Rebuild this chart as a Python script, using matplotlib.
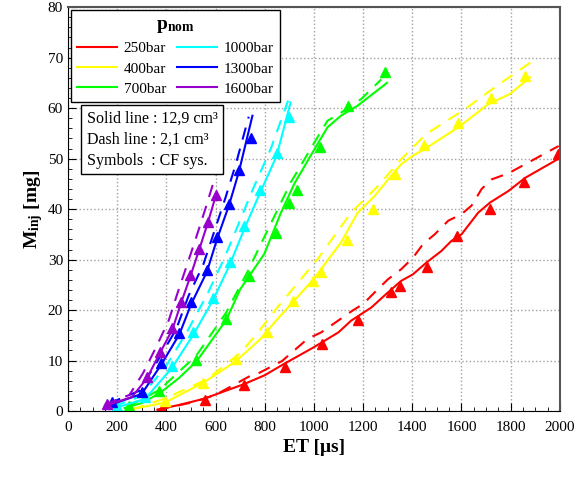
import numpy as np
import matplotlib
matplotlib.use('Agg')
import matplotlib.pyplot as plt
from matplotlib.lines import Line2D
from matplotlib.ticker import MultipleLocator

plt.rcParams['font.family'] = 'Liberation Serif'
plt.rcParams['mathtext.fontset'] = 'custom'
plt.rcParams['mathtext.rm'] = 'Liberation Serif'
plt.rcParams['mathtext.bf'] = 'Liberation Serif:bold'
plt.rcParams['mathtext.it'] = 'Liberation Serif:italic'

# (ET [us], M_inj [mg])
# 250 bar
sym_250 = [(381, 0.5), (556, 2.1), (717, 5.2), (881, 8.8), (1032, 13.3), (1178, 18.0),
           (1314, 23.5), (1349, 24.8), (1460, 28.6), (1582, 34.6), (1716, 40.1),
           (1856, 45.3), (1992, 50.9)]
solid_250 = [(365, 0.3), (450, 1.2), (550, 2.4), (714, 5.3), (800, 7.1), (877, 9.3),
             (998, 12.6), (1100, 15.6), (1151, 17.9), (1233, 20.5), (1301, 23.5),
             (1355, 25.8), (1403, 27.1), (1457, 29.4), (1518, 31.7), (1559, 33.7),
             (1600, 35.0), (1668, 39.3), (1716, 41.3), (1791, 43.6), (1859, 46.2),
             (1992, 49.9)]
dash_250 = [(360, 0.2), (504, 1.7), (600, 3.2), (742, 7.0), (775, 7.5), (870, 9.9),
            (974, 14.3), (1030, 15.6), (1157, 19.9), (1200, 21.2), (1261, 24.2),
            (1301, 26.1), (1355, 28.1), (1403, 30.4), (1444, 33.1), (1491, 35.0),
            (1546, 37.7), (1600, 39.0), (1641, 40.7), (1682, 44.0), (1723, 45.9),
            (1791, 47.1), (1995, 52.5)]

# 400 bar
sym_400 = [(395, 2.0), (550, 5.6), (683, 10.3), (808, 15.6), (913, 21.8), (998, 25.7),
           (1028, 27.6), (1133, 33.9), (1242, 40.1), (1328, 46.9), (1446, 52.7),
           (1587, 57.0), (1720, 62.0), (1859, 66.3)]
solid_400 = [(240, 0.2), (293, 0.7), (395, 1.7), (553, 5.7), (681, 9.8), (783, 14.3),
             (851, 18.2), (913, 21.5), (998, 26.1), (1110, 33.4), (1178, 39.3),
             (1247, 42.6), (1302, 45.9), (1355, 48.9), (1403, 50.6), (1450, 51.9),
             (1587, 56.2), (1709, 60.8), (1797, 62.8), (1879, 66.1)]
dash_400 = [(260, 0.3), (400, 2.6), (565, 6.3), (700, 11.5), (763, 15.0), (851, 20.5),
            (1015, 30.1), (1151, 39.3), (1261, 44.6), (1355, 49.9), (1457, 54.9),
            (1614, 59.8), (1743, 64.4), (1900, 69.7)]

# 700 bar
sym_700 = [(250, 1.0), (372, 3.9), (522, 10.2), (643, 18.2), (737, 26.7), (844, 35.2),
           (899, 41.2), (933, 43.8), (1023, 52.4), (1140, 60.5), (1290, 67.1)]
solid_700 = [(230, 0.6), (300, 1.6), (372, 3.5), (450, 6.5), (522, 9.8), (643, 18.0),
             (701, 24.2), (798, 31.1), (866, 39.3), (920, 45.0), (987, 50.6),
             (1055, 56.2), (1110, 58.5), (1178, 60.5), (1297, 65.0)]
dash_700 = [(240, 0.8), (372, 4.2), (522, 11.0), (643, 19.5), (729, 27.5), (906, 45.3),
            (1002, 53.2), (1055, 57.5), (1110, 59.1), (1192, 61.8), (1274, 65.7)]

# 1000 bar
sym_1000 = [(200, 1.0), (313, 2.7), (422, 9.0), (508, 15.6), (590, 22.4), (658, 29.6),
            (716, 36.7), (779, 43.8), (848, 51.2), (899, 58.3)]
solid_1000 = [(190, 0.6), (313, 2.4), (422, 8.5), (508, 15.0), (590, 22.0), (658, 29.0),
              (716, 36.0), (779, 43.0), (848, 50.5), (905, 61.1)]
dash_1000 = [(185, 0.9), (300, 3.0), (400, 9.0), (485, 15.8), (565, 23.0), (635, 30.2),
             (693, 37.0), (755, 44.3), (825, 52.0), (895, 61.5)]

# 1300 bar
sym_1300 = [(180, 1.8), (300, 3.7), (379, 9.5), (453, 15.4), (501, 21.7), (565, 27.9),
            (607, 34.5), (655, 41.1), (695, 47.7), (745, 54.1)]
solid_1300 = [(170, 1.2), (300, 3.4), (379, 9.2), (453, 15.2), (501, 21.2), (565, 27.6),
              (607, 34.2), (655, 40.8), (695, 47.4), (750, 58.5)]
dash_1300 = [(165, 1.5), (290, 4.0), (365, 10.0), (440, 16.2), (490, 22.8), (550, 29.0),
             (595, 35.6), (640, 42.2), (683, 49.0), (735, 58.3)]

# 1600 bar
sym_1600 = [(160, 1.5), (320, 6.7), (373, 11.7), (425, 16.4), (459, 21.6), (497, 26.9),
            (533, 32.2), (568, 37.5), (600, 42.7)]
solid_1600 = [(150, 1.0), (260, 2.8), (320, 6.4), (373, 11.4), (425, 16.2), (459, 21.3),
              (497, 26.6), (533, 31.9), (568, 37.2), (600, 42.5)]
dash_1600 = [(150, 1.3), (250, 3.2), (305, 7.5), (360, 12.8), (410, 18.0), (445, 23.3),
             (483, 28.8), (520, 34.2), (555, 39.5), (600, 46.6)]

labels = ['250bar', '400bar', '700bar', '1000bar', '1300bar', '1600bar']
colors = ['#ff0000', '#ffff00', '#00ff00', '#00ffff', '#0000ff', '#9900cc']
solids = [solid_250, solid_400, solid_700, solid_1000, solid_1300, solid_1600]
dashes = [dash_250, dash_400, dash_700, dash_1000, dash_1300, dash_1600]
symbols = [sym_250, sym_400, sym_700, sym_1000, sym_1300, sym_1600]

fig = plt.figure(figsize=(5.76, 4.78), dpi=100)
ax = fig.add_axes([0.118, 0.140, 0.854, 0.845])

for s, d, m, c in zip(solids, dashes, symbols, colors):
    s = np.array(s)
    d = np.array(d)
    m = np.array(m)
    ax.plot(s[:, 0], s[:, 1], '-', color=c, lw=1.5)
    ax.plot(d[:, 0], d[:, 1], color=c, lw=1.5, linestyle=(0, (6, 4.5)))
    ax.plot(m[:, 0], m[:, 1], '^', color=c, ms=7, mec=c, ls='none')

ax.set_xlim(0, 2000)
ax.set_ylim(0, 80)
ax.xaxis.set_major_locator(MultipleLocator(200))
ax.xaxis.set_minor_locator(MultipleLocator(50))
ax.yaxis.set_major_locator(MultipleLocator(10))
ax.yaxis.set_minor_locator(MultipleLocator(2))
ax.tick_params(which='both', direction='in', top=False, right=False, labelsize=11)
ax.tick_params(which='major', length=6)
ax.tick_params(which='minor', length=3)
ax.tick_params(axis='x', pad=7)
ax.grid(True, which='major', linestyle=':', color='#a0a0a0', lw=1)
ax.set_axisbelow(True)
for side in ['top', 'right']:
    ax.spines[side].set_color('#555555')
    ax.spines[side].set_linewidth(1.5)

ax.set_xlabel('ET [\u03bcs]', fontsize=14, fontweight='bold', labelpad=4)
ax.set_ylabel(r'M$_{\mathbf{inj}}$ [mg]', fontsize=14, fontweight='bold', labelpad=2)

handles = [Line2D([0], [0], color=c, lw=1.5) for c in colors]
leg = ax.legend(handles, labels, ncol=2, loc='upper left', title=r'$\mathbf{p_{nom}}$',
                fontsize=11, title_fontsize=14, frameon=True, fancybox=False,
                edgecolor='black', framealpha=1, handlelength=2.6, columnspacing=0.7,
                borderaxespad=0.2, labelspacing=0.42, handletextpad=0.45)
leg.get_frame().set_linewidth(1)

ax.text(0.038, 0.743, 'Solid line : 12,9 cm\u00b3\nDash line : 2,1 cm\u00b3\nSymbols  : CF sys.',
        transform=ax.transAxes, fontsize=11.5, va='top', ha='left', linespacing=1.4,
        bbox=dict(boxstyle='square,pad=0.35', fc='white', ec='black', lw=1))

fig.savefig('out.png', dpi=100)
